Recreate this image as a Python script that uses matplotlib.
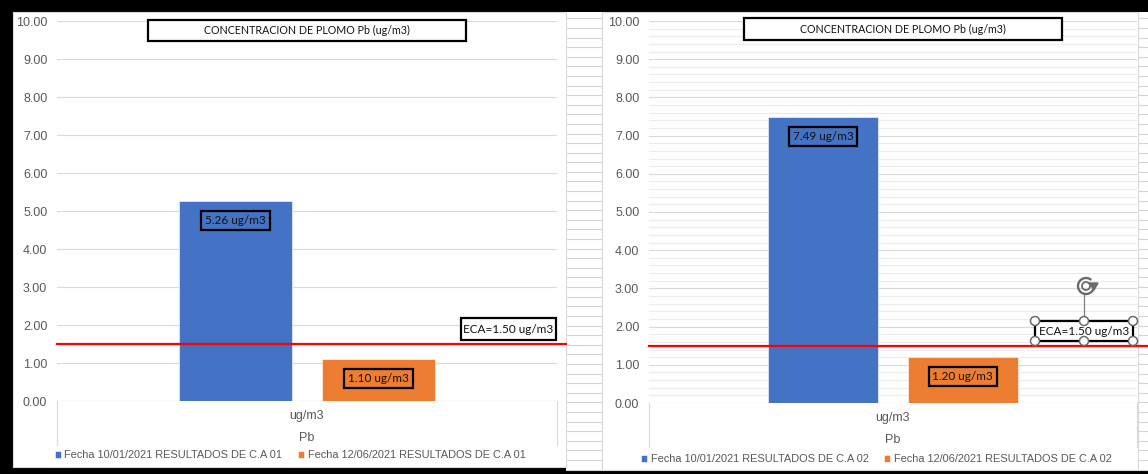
import matplotlib
matplotlib.use("Agg")
import matplotlib.pyplot as plt
from matplotlib.patches import Rectangle, Ellipse, Arc, Polygon
from matplotlib.lines import Line2D

# ---- data -------------------------------------------------------------
title = "CONCENTRACION DE PLOMO Pb (ug/m3)"
categories = ["ug/m3"]
group_label = "Pb"
series_left = ["Fecha 10/01/2021 RESULTADOS DE C.A 01",
               "Fecha 12/06/2021 RESULTADOS DE C.A 01"]
series_right = ["Fecha 10/01/2021 RESULTADOS DE C.A 02",
                "Fecha 12/06/2021 RESULTADOS DE C.A 02"]
values_left = [5.26, 1.10]
values_right = [7.49, 1.20]
eca_limit = 1.50
y_ticks = [0, 1, 2, 3, 4, 5, 6, 7, 8, 9, 10]
unit = "ug/m3"

# ---- styling ----------------------------------------------------------
W, H = 1148, 474
BAR_COLORS = ["#4472C4", "#ED7D31"]
GRID = "#d9d9d9"
MINOR_GRID = "#ececec"
AXIS_TEXT = "#595959"
SANS = ["Liberation Sans", "DejaVu Sans"]
BODY = ["Lato", "DejaVu Sans"]

fig = plt.figure(figsize=(W / 100, H / 100), dpi=100)
fig.patch.set_facecolor("black")


def fx(x):
    return x / W


def fy(y):
    return 1 - y / H


def fig_box(x0, y0, x1, y1, **kw):
    r = Rectangle((fx(x0), fy(y1)), (x1 - x0) / W, (y1 - y0) / H,
                  transform=fig.transFigure, **kw)
    fig.add_artist(r)
    return r


def fig_line(xs, ys, **kw):
    fig.add_artist(Line2D([fx(x) for x in xs], [fy(y) for y in ys],
                          transform=fig.transFigure, **kw))


# worksheet area behind the charts
fig_box(566, 12, 1148, 470, facecolor="white", edgecolor="none", zorder=0)
row = 18.3
while row < 470:
    fig_line([566, 602], [row, row], color="#d4d4d4", lw=0.8, zorder=0.5)
    fig_line([1138, 1148], [row, row], color="#d4d4d4", lw=0.8, zorder=0.5)
    row += 9.6

# chart panels
fig_box(13, 12, 566, 467, facecolor="white", edgecolor="#d9d9d9", lw=0.8, zorder=1)
fig_box(602, 12, 1138, 470, facecolor="white", edgecolor="#d9d9d9", lw=0.8, zorder=1)


def draw_chart(plot_px, values, series, title_px, eca_px, legend_xy,
               minor, red_end_px, label_rows):
    x0, y0, x1, y1 = plot_px
    ax = fig.add_axes([fx(x0), fy(y1), (x1 - x0) / W, (y1 - y0) / H])
    ax.set_zorder(2)
    ax.patch.set_visible(False)
    ax.set_xlim(-0.5, 0.5)
    ax.set_ylim(0, 10)
    for s in ax.spines.values():
        s.set_visible(False)

    ax.set_yticks(y_ticks)
    ax.set_yticklabels([f"{t:.2f}" for t in y_ticks], fontsize=9,
                       color=AXIS_TEXT, family=SANS)
    ax.tick_params(axis="y", length=0, pad=7)
    if minor:
        ax.set_yticks([t / 5 for t in range(51) if t % 5], minor=True)
        ax.tick_params(axis="y", which="minor", length=0)
        ax.grid(axis="y", which="minor", color=MINOR_GRID, lw=0.8, zorder=0)
    ax.grid(axis="y", which="major", color=GRID, lw=0.8, zorder=0)
    ax.set_axisbelow(True)

    # category axis with its two-level label box
    h_px = y1 - y0
    ax.set_xticks([0])
    ax.set_xticklabels(categories, fontsize=9, color=AXIS_TEXT, family=SANS)
    ax.tick_params(axis="x", length=0, pad=(label_rows[0] - y1 - 6) * 0.72)
    ax.axhline(0, color=GRID, lw=0.8, zorder=1)
    for xe in (0, 1):
        ax.plot([xe, xe], [0, -44 / h_px], transform=ax.transAxes,
                color=GRID, lw=0.8, clip_on=False)
    ax.text(0.5, -(label_rows[1] - y1) / h_px, group_label,
            transform=ax.transAxes, ha="center", va="center",
            fontsize=9, color=AXIS_TEXT, family=SANS)

    # bars
    offsets = [-0.143, 0.143]
    handles = []
    for off, v, c, name in zip(offsets, values, BAR_COLORS, series):
        b = ax.bar(off, v, width=0.225, color=c, edgecolor="white",
                   linewidth=0.4, label=name, zorder=2)
        handles.append(b)
        ax.annotate(f"{v:.2f} {unit}", xy=(off, v), xytext=(0, -19.5),
                    textcoords="offset pixels", ha="center", va="center",
                    fontsize=8.5, family=BODY, color="#111111", zorder=4,
                    bbox=dict(boxstyle="square,pad=0.33", fc="none",
                              ec="black", lw=1.6))

    # limit line
    ax.plot([-0.5, -0.5 + (red_end_px - x0) / (x1 - x0)],
            [eca_limit, eca_limit], color="#ff0000", lw=1.6,
            clip_on=False, zorder=3)

    # legend
    ax.legend(handles=handles, loc="center", bbox_to_anchor=legend_xy,
              bbox_transform=fig.transFigure, ncol=2, frameon=False,
              prop={"family": SANS, "size": 7.9}, labelcolor=AXIS_TEXT,
              handlelength=0.6, handleheight=0.6, handletextpad=0.3,
              columnspacing=1.4, borderaxespad=0, borderpad=0)

    # title box
    tx0, ty0, tx1, ty1 = title_px
    fig_box(tx0, ty0, tx1, ty1, facecolor="white", edgecolor="black",
            lw=1.6, zorder=5)
    fig.text(fx((tx0 + tx1) / 2), fy((ty0 + ty1) / 2), title,
             ha="center", va="center", fontsize=7.7, family=BODY,
             color="#111111", zorder=6)

    # limit label
    ex0, ey0, ex1, ey1 = eca_px
    fig_box(ex0, ey0, ex1, ey1, facecolor="white", edgecolor="black",
            lw=1.6, zorder=5)
    fig.text(fx((ex0 + ex1) / 2), fy((ey0 + ey1) / 2 + 0.5),
             f"ECA={eca_limit:.2f} {unit}", ha="center", va="center",
             fontsize=8.5, family=BODY, color="#111111", zorder=6)
    return ax


draw_chart((57, 21, 557, 401), values_left, series_left,
           (148, 20, 466, 41), (461, 318, 556, 340),
           (fx(290), fy(455)), False, 566, (416, 438))
draw_chart((649, 21, 1137, 403), values_right, series_right,
           (744, 18, 1062, 40), (1035, 321, 1133, 341),
           (fx(876), fy(459)), True, 1148, (418, 440))

# selection handles around the right-hand limit label
sx0, sy0, sx1, sy1 = 1035, 321, 1133, 341
sxm = (sx0 + sx1) / 2
fig_line([sxm, sxm], [294, sy0], color="#7f7f7f", lw=0.9, zorder=7)
for hx in (sx0, sxm, sx1):
    for hy in (sy0, sy1):
        fig.add_artist(Ellipse((fx(hx), fy(hy)), 9 / W, 9 / H,
                               transform=fig.transFigure, facecolor="white",
                               edgecolor="#6b6b6b", lw=1.1, zorder=8))
# rotate handle
rx, ry = 1086, 286
fig.add_artist(Arc((fx(rx), fy(ry)), 16 / W, 16 / H, theta1=70, theta2=400,
                   transform=fig.transFigure, color="#6b6b6b", lw=1.7, zorder=8))
fig.add_artist(Ellipse((fx(rx), fy(ry)), 8 / W, 8 / H, fill=False,
                       transform=fig.transFigure, edgecolor="#6b6b6b",
                       lw=1.3, zorder=8))
fig.add_artist(Polygon([(fx(rx + 3), fy(ry - 3)), (fx(rx + 12), fy(ry - 3)),
                        (fx(rx + 8), fy(ry + 4))], closed=True,
                       transform=fig.transFigure, color="#6b6b6b", zorder=8))

fig.savefig("out.png", dpi=100, facecolor=fig.get_facecolor())
